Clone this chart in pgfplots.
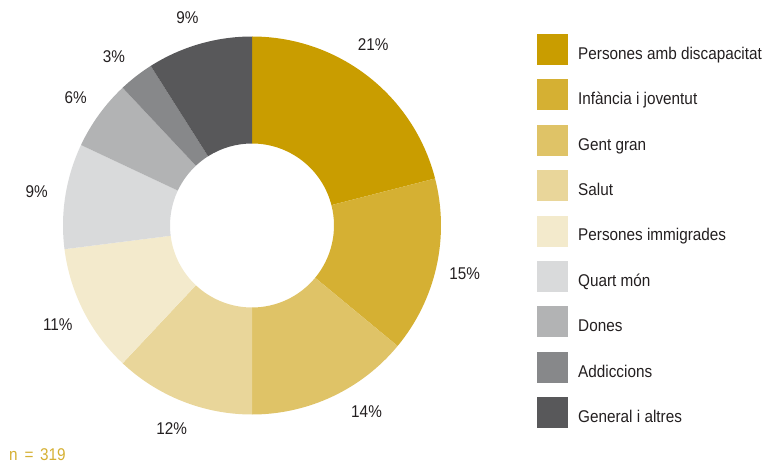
\documentclass[border=0pt]{standalone}
\usepackage{pgfplots}
\pgfplotsset{compat=1.18}
\usepackage{pgfplotstable}
\usepackage{fontspec}
\setmainfont{Liberation Sans}[FakeStretch=0.9]

\definecolor{c1}{RGB}{201,157,0}
\definecolor{c2}{RGB}{213,176,51}
\definecolor{c3}{RGB}{223,195,103}
\definecolor{c4}{RGB}{233,214,154}
\definecolor{c5}{RGB}{243,234,204}
\definecolor{c6}{RGB}{217,218,219}
\definecolor{c7}{RGB}{178,179,180}
\definecolor{c8}{RGB}{135,136,138}
\definecolor{c9}{RGB}{88,88,90}
\definecolor{txt}{RGB}{35,31,32}
\definecolor{ncol}{RGB}{213,176,51}

% share of each group, in %; shift = small nudge of the label angle
\pgfplotstableread[col sep=comma]{
name,value,col,shift
Persones amb discapacitat,21,c1,4
Infància i joventut,15,c2,0
Gent gran,14,c3,6.5
Salut,12,c4,0
Persones immigrades,11,c5,0
Quart món,9,c6,0
Dones,6,c7,0
Addiccions,3,c8,1.5
General i altres,9,c9,1
}\piedata

\begin{document}
\begin{tikzpicture}[font=\fontsize{17}{20}\selectfont]
\begin{axis}[x=1pt, y=1pt, xmin=0, xmax=765, ymin=0, ymax=464,
  anchor=origin, hide axis, clip=false]
\pgfplotstablegetrowsof{\piedata}
\pgfmathtruncatemacro\lastrow{\pgfplotsretval-1}
\def\cum{0}
\pgfplotsforeachungrouped \i in {0,...,\lastrow}{%
  \pgfplotstablegetelem{\i}{value}\of\piedata \let\val\pgfplotsretval
  \pgfplotstablegetelem{\i}{col}\of\piedata \let\col\pgfplotsretval
  \pgfplotstablegetelem{\i}{name}\of\piedata \let\nm\pgfplotsretval
  \pgfplotstablegetelem{\i}{shift}\of\piedata \let\sh\pgfplotsretval
  \pgfmathsetmacro\aa{90-3.6*\cum}
  \pgfmathsetmacro\bb{90-3.6*(\cum+\val)}
  \pgfmathsetmacro\mm{(\aa+\bb)/2+\sh}
  \pgfmathsetmacro\ox{252+189*cos(\aa)}
  \pgfmathsetmacro\oy{238.5+189*sin(\aa)}
  \pgfmathsetmacro\ix{252+82*cos(\bb)}
  \pgfmathsetmacro\iy{238.5+82*sin(\bb)}
  \pgfmathsetmacro\lx{252+218*cos(\mm)}
  \pgfmathsetmacro\ly{238.5+218*sin(\mm)-6.1}
  \pgfmathsetmacro\sq{414.5-45.4*\i}
  \pgfmathsetmacro\sqa{\sq-15.5}
  \pgfmathsetmacro\sqb{\sq+15.5}
  \pgfmathsetmacro\tb{\sq-9.8}
  \edef\slice{%
    \noexpand\fill[\col] (axis cs:\ox,\oy) arc[start angle=\aa, end angle=\bb, radius=189pt]
      -- (axis cs:\ix,\iy) arc[start angle=\bb, end angle=\aa, radius=82pt] -- cycle;
    \noexpand\node[txt, anchor=base, inner sep=0pt] at (axis cs:\lx,\ly) {\val\noexpand\%};
    \noexpand\fill[\col] (axis cs:537,\sqa) rectangle (axis cs:568,\sqb);
    \noexpand\node[txt, anchor=base west, inner sep=0pt] at (axis cs:578,\tb) {\nm};
  }\slice
  \pgfmathsetmacro\cum{\cum+\val}
}
\node[ncol, anchor=base west, inner sep=0pt] at (axis cs:9,3.5) {n\hspace{0.4em}=\hspace{0.4em}319};
\end{axis}
\pgfresetboundingbox
\path[use as bounding box] (0,0) rectangle (765pt,464pt);
\end{tikzpicture}
\end{document}
